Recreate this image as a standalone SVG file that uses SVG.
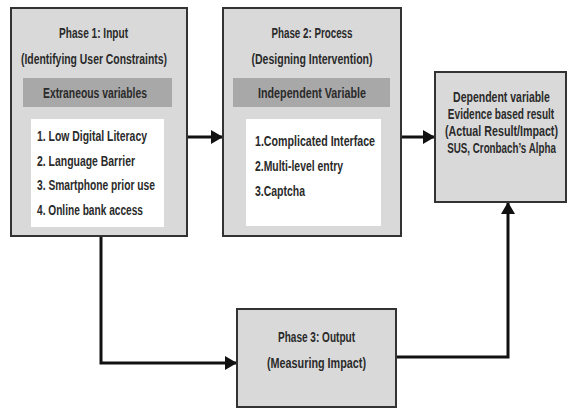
<svg xmlns="http://www.w3.org/2000/svg" width="569" height="409" viewBox="0 0 569 409">
<style>
.box{fill:#d9d9d9;stroke:#333;stroke-width:2}
.band{fill:#a8a8a8}
.inner{fill:#fff}
.t{font-family:"Liberation Sans",Arial,sans-serif;font-size:14px;font-weight:bold;fill:#2a2a2a}
.c{text-anchor:middle}
.conn{fill:none;stroke:#111;stroke-width:3}
</style>
<defs>
<marker id="ah" markerUnits="userSpaceOnUse" markerWidth="12" markerHeight="14" refX="11" refY="7" orient="auto">
<path d="M0,0 L12,7 L0,14 Z" fill="#111"/>
</marker>
</defs>
<rect width="569" height="409" fill="#fff"/>
<g id="connectors">
<path class="conn" d="M187 137 H222" marker-end="url(#ah)"/>
<path class="conn" d="M401 137 H434" marker-end="url(#ah)"/>
<path class="conn" d="M101 236 V363 H236" marker-end="url(#ah)"/>
<path class="conn" d="M396 357 H508 V203" marker-end="url(#ah)"/>
</g>
<g id="phase1">
<rect class="box" x="11" y="8" width="176" height="228"/>
<rect class="band" x="23" y="78" width="149" height="29"/>
<rect class="inner" x="31" y="119" width="133" height="108"/>
<text class="t c" x="93.5" y="38" textLength="69" lengthAdjust="spacingAndGlyphs">Phase 1: Input</text>
<text class="t c" x="94" y="64" textLength="146" lengthAdjust="spacingAndGlyphs">(Identifying User Constraints)</text>
<text class="t c" x="95" y="98" textLength="104" lengthAdjust="spacingAndGlyphs">Extraneous variables</text>
<text class="t" x="37" y="141" textLength="110" lengthAdjust="spacingAndGlyphs">1. Low Digital Literacy</text>
<text class="t" x="37" y="166" textLength="98" lengthAdjust="spacingAndGlyphs">2. Language Barrier</text>
<text class="t" x="37" y="190" textLength="118" lengthAdjust="spacingAndGlyphs">3. Smartphone prior use</text>
<text class="t" x="37" y="215" textLength="106" lengthAdjust="spacingAndGlyphs">4. Online bank access</text>
</g>
<g id="phase2">
<rect class="box" x="223" y="8" width="178" height="228"/>
<rect class="band" x="233" y="78" width="157" height="29"/>
<rect class="inner" x="246" y="119" width="135" height="107"/>
<text class="t c" x="312" y="38" textLength="81" lengthAdjust="spacingAndGlyphs">Phase 2: Process</text>
<text class="t c" x="312" y="64" textLength="121" lengthAdjust="spacingAndGlyphs">(Designing Intervention)</text>
<text class="t c" x="312" y="98" textLength="108" lengthAdjust="spacingAndGlyphs">Independent Variable</text>
<text class="t" x="255" y="146" textLength="120" lengthAdjust="spacingAndGlyphs">1.Complicated Interface</text>
<text class="t" x="255" y="171" textLength="88" lengthAdjust="spacingAndGlyphs">2.Multi-level entry</text>
<text class="t" x="255" y="196" textLength="50" lengthAdjust="spacingAndGlyphs">3.Captcha</text>
</g>
<g id="dependent">
<rect class="box" x="435" y="72" width="131" height="130"/>
<text class="t c" transform="translate(501.5,102) scale(0.75,1)">Dependent variable</text>
<text class="t c" transform="translate(501,119) scale(0.72,1)">Evidence based result</text>
<text class="t c" transform="translate(501.5,136) scale(0.765,1)">(Actual Result/Impact)</text>
<text class="t c" transform="translate(501.5,153) scale(0.70,1)">SUS, Cronbach’s Alpha</text>
</g>
<g id="phase3">
<rect class="box" x="237" y="309" width="159" height="98"/>
<text class="t c" x="316.5" y="342" textLength="77" lengthAdjust="spacingAndGlyphs">Phase 3: Output</text>
<text class="t c" x="316.5" y="368" textLength="99" lengthAdjust="spacingAndGlyphs">(Measuring Impact)</text>
</g>
</svg>
